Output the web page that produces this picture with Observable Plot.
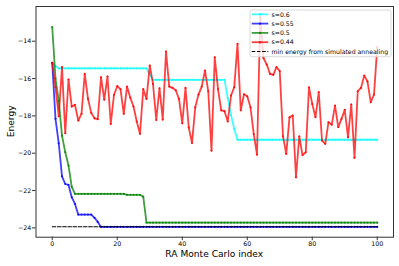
<!DOCTYPE html>
<html>
<head>
<meta charset="utf-8">
<script src="https://cdn.jsdelivr.net/npm/d3@7"></script>
<script src="https://cdn.jsdelivr.net/npm/@observablehq/plot@0.6"></script>
<style>
  html, body { margin: 0; padding: 0; background: #fff; }
  svg { display: block; }
</style>
</head>
<body>
<div id="chart"></div>
<script>
// ---- data ----
const xIndex = d3.range(0, 101); // RA Monte Carlo index 0..100

const s06 = [
  -15.16, -15.34, -15.45, -15.45, -15.45, -15.45, -15.45, -15.45, -15.45, -15.45,
  -15.45, -15.45, -15.45, -15.45, -15.45, -15.45, -15.45, -15.45, -15.45, -15.45,
  -15.45, -15.45, -15.45, -15.45, -15.45, -15.45, -15.45, -15.45, -15.45, -15.45,
  -15.80, -16.07, -16.07, -16.07, -16.07, -16.07, -16.07, -16.07, -16.07, -16.07,
  -16.07, -16.07, -16.07, -16.07, -16.07, -16.07, -16.07, -16.07, -16.07, -16.07,
  -16.07, -16.07, -16.07, -16.07, -17.05, -17.95, -18.70, -19.28, -19.28, -19.28,
  -19.28, -19.28, -19.28, -19.28, -19.28, -19.28, -19.28, -19.28, -19.28, -19.28,
  -19.28, -19.28, -19.28, -19.28, -19.28, -19.28, -19.28, -19.28, -19.28, -19.28,
  -19.28, -19.28, -19.28, -19.28, -19.28, -19.28, -19.28, -19.28, -19.28, -19.28,
  -19.28, -19.28, -19.28, -19.28, -19.28, -19.28, -19.28, -19.28, -19.28, -19.28,
  -19.28
];

const s055 = [
  -15.16, -18.16, -19.47, -21.24, -21.65, -21.70, -22.36, -22.72, -23.29, -23.29,
  -23.29, -23.29, -23.29, -23.46, -23.68, -23.95, -23.95, -23.95, -23.95, -23.95,
  -23.95, -23.95, -23.95, -23.95, -23.95, -23.95, -23.95, -23.95, -23.95, -23.95,
  -23.95, -23.95, -23.95, -23.95, -23.95, -23.95, -23.95, -23.95, -23.95, -23.95,
  -23.95, -23.95, -23.95, -23.95, -23.95, -23.95, -23.95, -23.95, -23.95, -23.95,
  -23.95, -23.95, -23.95, -23.95, -23.95, -23.95, -23.95, -23.95, -23.95, -23.95,
  -23.95, -23.95, -23.95, -23.95, -23.95, -23.95, -23.95, -23.95, -23.95, -23.95,
  -23.95, -23.95, -23.95, -23.95, -23.95, -23.95, -23.95, -23.95, -23.95, -23.95,
  -23.95, -23.95, -23.95, -23.95, -23.95, -23.95, -23.95, -23.95, -23.95, -23.95,
  -23.95, -23.95, -23.95, -23.95, -23.95, -23.95, -23.95, -23.95, -23.95, -23.95,
  -23.95
];

const s05 = [
  -13.25, -16.00, -17.20, -19.06, -19.95, -20.66, -21.80, -22.18, -22.18, -22.18,
  -22.18, -22.18, -22.18, -22.18, -22.18, -22.18, -22.18, -22.18, -22.18, -22.18,
  -22.18, -22.18, -22.18, -22.23, -22.23, -22.23, -22.23, -22.23, -22.33, -23.72,
  -23.72, -23.72, -23.72, -23.72, -23.72, -23.72, -23.72, -23.72, -23.72, -23.72,
  -23.72, -23.72, -23.72, -23.72, -23.72, -23.72, -23.72, -23.72, -23.72, -23.72,
  -23.72, -23.72, -23.72, -23.72, -23.72, -23.72, -23.72, -23.72, -23.72, -23.72,
  -23.72, -23.72, -23.72, -23.72, -23.72, -23.72, -23.72, -23.72, -23.72, -23.72,
  -23.72, -23.72, -23.72, -23.72, -23.72, -23.72, -23.72, -23.72, -23.72, -23.72,
  -23.72, -23.72, -23.72, -23.72, -23.72, -23.72, -23.72, -23.72, -23.72, -23.72,
  -23.72, -23.72, -23.72, -23.72, -23.72, -23.72, -23.72, -23.72, -23.72, -23.72,
  -23.72
];

const s044 = [
  -15.16, -16.46, -18.02, -15.39, -18.93, -16.05, -17.50, -17.41, -18.25, -17.89,
  -15.75, -17.09, -17.84, -18.13, -18.18, -15.93, -17.13, -15.89, -18.43, -16.87,
  -16.41, -16.57, -17.89, -16.43, -17.02, -17.50, -18.30, -18.96, -16.57, -17.09,
  -15.30, -16.29, -18.22, -16.52, -18.20, -14.55, -16.43, -16.50, -16.63, -17.09,
  -18.40, -16.50, -18.62, -19.45, -17.54, -16.86, -16.43, -15.57, -16.68, -19.86,
  -14.86, -16.57, -17.70, -17.75, -18.30, -16.91, -16.46, -14.14, -17.70, -16.84,
  -16.95, -17.54, -18.97, -20.08, -12.70, -14.90, -15.25, -15.75, -15.80, -15.39,
  -15.60, -19.10, -20.04, -18.08, -17.98, -21.29, -19.10, -20.10, -19.95, -16.47,
  -17.36, -18.07, -16.73, -19.32, -19.50, -18.34, -18.47, -17.45, -18.60, -18.16,
  -17.68, -19.15, -17.39, -20.25, -16.68, -16.50, -15.84, -16.16, -17.27, -16.86,
  -14.30
];

const saMin = -23.94; // min energy from simulated annealing

const seriesNames = ["s=0.6", "s=0.55", "s=0.5", "s=0.44"];
const seriesValues = [s06, s055, s05, s044];
const seriesColors = ["#00ffff", "#0000ff", "#008000", "#ff0000"];
const dashedName = "min energy from simulated annealing";

const xTicks = [0, 20, 40, 60, 80, 100];
const yTicks = [-24, -22, -20, -18, -16, -14];
const xLabel = "RA Monte Carlo index";
const yLabel = "Energy";

// ---- build ----
const W = 399, H = 266;
const mL = 35.5, mR = 6, mT = 6, mB = 29.3;
const ALPHA = 0.75;

const seriesMarks = [];
seriesValues.forEach((vals, k) => {
  const rows = xIndex.map((x, i) => ({x, y: vals[i]}));
  seriesMarks.push(Plot.line(rows, {x: "x", y: "y", stroke: seriesColors[k], strokeOpacity: ALPHA, strokeWidth: 1.8}));
  seriesMarks.push(Plot.dot(rows, {x: "x", y: "y", r: 1.1, fill: seriesColors[k], fillOpacity: ALPHA, stroke: "none"}));
});
const saRows = [xIndex[0], xIndex[xIndex.length - 1]].map(x => ({x, y: saMin}));

const plot = Plot.plot({
  width: W, height: H,
  marginLeft: mL, marginRight: mR, marginTop: mT, marginBottom: mB,
  style: {fontFamily: "DejaVu Sans", fontSize: "6.3px", background: "#fff", color: "#000"},
  x: {domain: [-5, 105]},
  y: {domain: [-24.5, -12.14]},
  marks: [
    ...seriesMarks,
    Plot.line(saRows, {x: "x", y: "y", stroke: "#000", strokeWidth: 1.1, strokeDasharray: "3.6,1.6"}),
    Plot.frame({stroke: "#333", strokeWidth: 1}),
    Plot.axisX({ticks: xTicks, tickSize: 3.5, tickPadding: 1.2, label: null, tickFormat: d3.format("d"), stroke: "#333"}),
    Plot.axisY({ticks: yTicks, tickSize: 3.5, tickPadding: 1.3, label: null, tickFormat: d3.format("d"), stroke: "#333"})
  ]
});

const svg = d3.select(plot);

// axis labels
svg.append("text")
  .attr("x", mL + (W - mL - mR) / 2).attr("y", 257)
  .attr("text-anchor", "middle")
  .attr("font-family", "DejaVu Sans").attr("font-size", "9.1px").attr("fill", "#000")
  .text(xLabel);
svg.append("text")
  .attr("transform", `translate(14,${mT + (H - mT - mB) / 2}) rotate(-90)`)
  .attr("text-anchor", "middle")
  .attr("font-family", "DejaVu Sans").attr("font-size", "9.1px").attr("fill", "#000")
  .text(yLabel);

// legend (upper right, matplotlib style)
const lg = svg.append("g")
  .attr("font-family", "DejaVu Sans").attr("font-size", "6.2px")
  .attr("text-anchor", "start").style("text-anchor", "start");
lg.append("rect")
  .attr("x", 250).attr("y", 10).attr("width", 141).attr("height", 46.7)
  .attr("rx", 1.5)
  .attr("fill", "#fff").attr("fill-opacity", 0.8)
  .attr("stroke", "#d0d0d0").attr("stroke-width", 0.8);
const rowY = [14.3, 23.6, 32.9, 42.2, 51.5];
seriesNames.forEach((name, k) => {
  lg.append("line").attr("x1", 251.7).attr("x2", 268.3).attr("y1", rowY[k]).attr("y2", rowY[k])
    .attr("stroke", seriesColors[k]).attr("stroke-opacity", ALPHA).attr("stroke-width", 1.8);
  lg.append("circle").attr("cx", 260).attr("cy", rowY[k]).attr("r", 1.2)
    .attr("fill", seriesColors[k]).attr("fill-opacity", ALPHA);
  lg.append("text").attr("x", 271.5).attr("y", rowY[k]).attr("dy", "0.36em")
    .attr("text-anchor", "start").attr("fill", "#000").text(name);
});
lg.append("line").attr("x1", 251.7).attr("x2", 268.3).attr("y1", rowY[4]).attr("y2", rowY[4])
  .attr("stroke", "#000").attr("stroke-width", 1.1).attr("stroke-dasharray", "3.6,1.6");
lg.append("text").attr("x", 271.5).attr("y", rowY[4]).attr("dy", "0.36em")
  .attr("text-anchor", "start").attr("fill", "#000").text(dashedName);

document.getElementById("chart").appendChild(plot);
</script>
</body>
</html>
